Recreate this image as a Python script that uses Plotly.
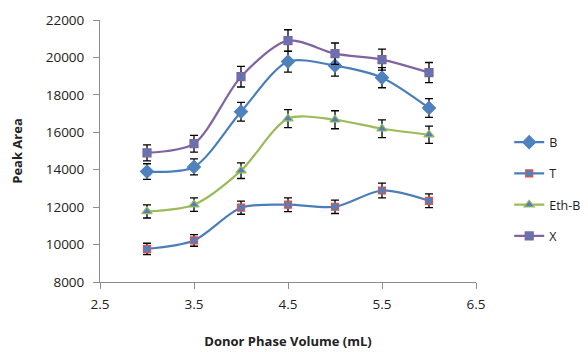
import plotly.graph_objects as go

volume = [3.0, 3.5, 4.0, 4.5, 5.0, 5.5, 6.0]
b_vals = [13900, 14150, 17100, 19780, 19560, 18920, 17300]
t_vals = [9770, 10220, 11970, 12130, 12020, 12890, 12340]
ethb_vals = [11770, 12130, 13950, 16730, 16670, 16190, 15870]
x_vals = [14900, 15390, 18970, 20900, 20200, 19880, 19190]

b_err = [420, 430, 500, 560, 560, 540, 500]
t_err = [300, 310, 350, 370, 360, 390, 370]
ethb_err = [350, 360, 420, 480, 480, 470, 460]
x_err = [430, 450, 550, 580, 570, 560, 540]

x_ticks = [2.5, 3.5, 4.5, 5.5, 6.5]
y_ticks = [8000, 10000, 12000, 14000, 16000, 18000, 20000, 22000]

fig = go.Figure()

def add(name, ys, errs, line_color, symbol, fill, outline, size):
    fig.add_trace(go.Scatter(
        x=volume, y=ys, name=name, mode="lines+markers", legendgroup=name,
        line=dict(color=line_color, width=2.2, shape="spline", smoothing=0.8),
        marker=dict(symbol=symbol, color=fill, size=size,
                    line=dict(color=outline, width=1.2)),
        error_y=dict(type="data", array=errs, visible=True,
                     color="black", thickness=1.3, width=4),
    ))

add("B", b_vals, b_err, "#4A7EBB", "diamond", "#4F81BD", "#4F81BD", 10)
add("T", t_vals, t_err, "#4A7EBB", "square", "#4F81BD", "#E0504D", 7)
add("Eth-B", ethb_vals, ethb_err, "#9BBB59", "triangle-up", "#4F81BD", "#9BBB59", 9)
add("X", x_vals, x_err, "#8064A2", "square-x", "#4F81BD", "#8064A2", 8)

axis_common = dict(
    showgrid=False, zeroline=False, showline=True, linecolor="#8C8C8C",
    linewidth=1, ticks="outside", tickcolor="#8C8C8C", ticklen=6,
    tickfont=dict(family="Open Sans, Liberation Sans, sans-serif", size=13.5, color="#222"),
)

fig.update_layout(
    width=588, height=352,
    margin=dict(l=100, r=112, t=20, b=70, autoexpand=False),
    paper_bgcolor="white", plot_bgcolor="white",
    font=dict(family="Open Sans, Liberation Sans, sans-serif", color="#222"),
    xaxis=dict(range=[2.5, 6.5], tickvals=x_ticks, ticktext=[str(v) for v in x_ticks],
               ticklabelstandoff=4, automargin=False,
               title=dict(text="<b>Donor Phase Volume (mL)</b>", font=dict(size=13), standoff=24),
               **axis_common),
    yaxis=dict(range=[8000, 22000], tickvals=y_ticks, ticktext=[str(v) for v in y_ticks],
               ticklabelstandoff=6, automargin=False,
               title=dict(text="<b>Peak Area</b>", font=dict(size=13), standoff=20),
               **axis_common),
    legend=dict(xref="container", yref="container", x=0.866, y=0.463,
                xanchor="left", yanchor="middle",
                font=dict(size=12.5), tracegroupgap=12, itemwidth=30,
                bgcolor="rgba(0,0,0,0)"),
    showlegend=True,
)

fig.write_html("out.html")
